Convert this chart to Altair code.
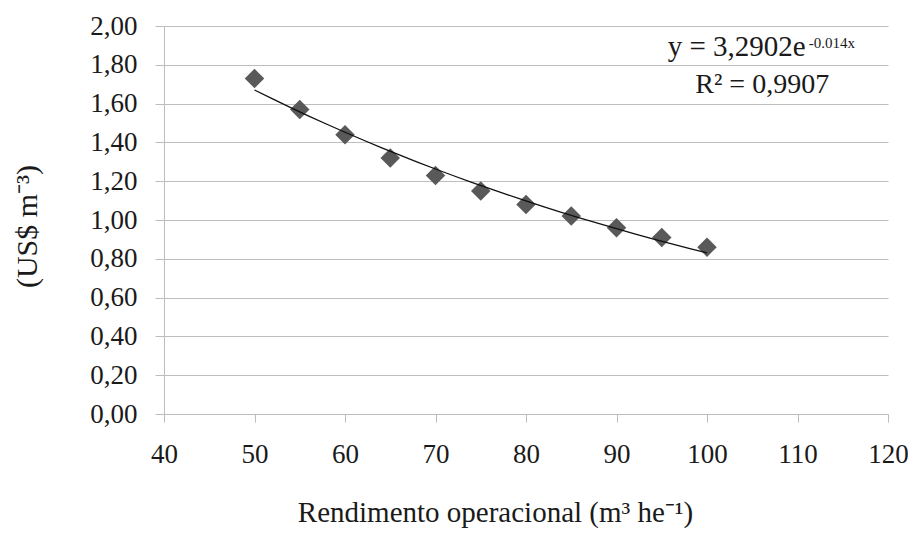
import altair as alt
import pandas as pd

# Data
rendimento = [50, 55, 60, 65, 70, 75, 80, 85, 90, 95, 100]
custo = [1.73, 1.57, 1.44, 1.32, 1.23, 1.15, 1.08, 1.02, 0.96, 0.91, 0.86]
x_ticks = [40, 50, 60, 70, 80, 90, 100, 110, 120]
y_ticks = [0.0, 0.2, 0.4, 0.6, 0.8, 1.0, 1.2, 1.4, 1.6, 1.8, 2.0]

eq_main = ["y = 3,2902e"]
eq_sup = ["-0.014x"]
r2_text = ["R² = 0,9907"]

FONT = "Liberation Serif"
GRID = "#bdbdbd"
TXT = "#1a1a1a"

df = pd.DataFrame({"x": rendimento, "y": custo})

xscale = alt.Scale(domain=[40, 120], nice=False, zero=False)
yscale = alt.Scale(domain=[0, 2], nice=False)

x_axis = alt.Axis(
    values=x_ticks, grid=False, domainColor=GRID, tickColor=GRID, tickSize=8,
    labelFont=FONT, labelFontSize=27, labelColor=TXT, labelPadding=19,
    labelFlush=False, labelOverlap=False,
    title="Rendimento operacional (m³ he⁻¹)", titleFont=FONT, titleFontSize=29,
    titleFontWeight="normal", titleColor=TXT, titleBaseline="alphabetic",
    titleY=107, titleX=331,
)
y_axis = alt.Axis(
    values=y_ticks, grid=True, gridColor=GRID, domainColor=GRID, tickColor=GRID,
    tickSize=9, labelFont=FONT, labelFontSize=27, labelColor=TXT, labelPadding=18,
    labelFlush=False, labelOverlap=False,
    labelExpr="replace(format(datum.value, '.2f'), '.', ',')",
    title="(US$ m⁻³)", titleFont=FONT, titleFontSize=30, titleFontWeight="normal",
    titleColor=TXT, titleBaseline="middle", titleAngle=-90,
    titleX=-137, titleY=200,
)

X = alt.X("x:Q", scale=xscale, axis=x_axis)
Y = alt.Y("y:Q", scale=yscale, axis=y_axis)

base = alt.Chart(df)

points = base.mark_point(shape="diamond", filled=True, size=380, color="#595959", opacity=1).encode(x=X, y=Y)

trend = base.transform_regression("x", "y", method="exp", extent=[50, 100]).mark_line(
    color="#111111", strokeWidth=1.3
).encode(x=X, y=Y)

ann1 = alt.Chart(pd.DataFrame({"x": [110.9], "y": [1.846], "t": eq_main})).mark_text(
    font=FONT, fontSize=29, align="right", baseline="alphabetic", color=TXT
).encode(x=X, y=Y, text="t:N")

ann2 = alt.Chart(pd.DataFrame({"x": [111.25], "y": [1.887], "t": eq_sup})).mark_text(
    font=FONT, fontSize=15, align="left", baseline="alphabetic", color=TXT
).encode(x=X, y=Y, text="t:N")

ann3 = alt.Chart(pd.DataFrame({"x": [106.1], "y": [1.656], "t": r2_text})).mark_text(
    font=FONT, fontSize=28, align="center", baseline="alphabetic", color=TXT
).encode(x=X, y=Y, text="t:N")

chart = alt.layer(points, trend, ann1, ann2, ann3).properties(
    width=724, height=388,
    autosize=alt.AutoSizeParams(type="none"),
    padding={"left": 156, "top": 18, "right": 20, "bottom": 116},
    background="white",
).configure_view(stroke=None)

chart.save("out.html", embed_options={"renderer": "svg", "actions": False})
